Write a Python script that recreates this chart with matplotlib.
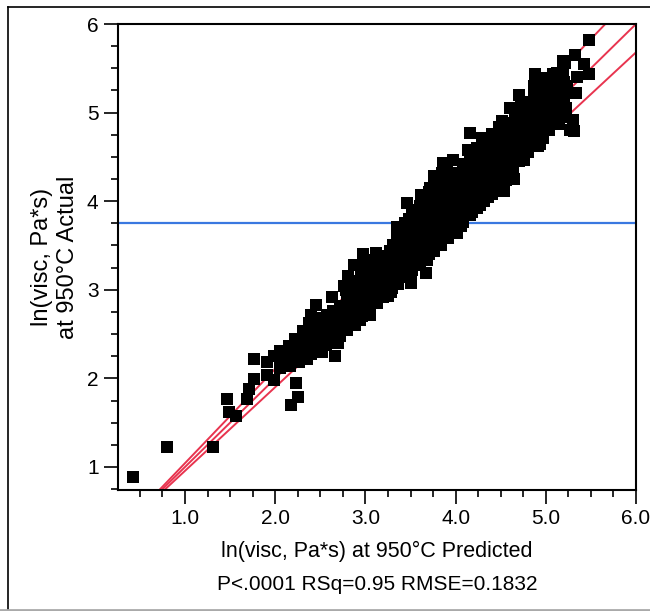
import matplotlib
matplotlib.use('Agg')
import matplotlib.pyplot as plt
from matplotlib.ticker import MultipleLocator, FormatStrFormatter
from matplotlib.lines import Line2D

# predicted vs actual ln(visc) at 950C
pred = [
    # low end, sparse
    0.42, 0.80, 1.31, 1.47, 1.49, 1.56, 1.69, 1.71, 1.76, 1.76, 1.91, 1.91, 1.99, 1.99, 2.05, 2.05, 2.16, 2.18, 2.23, 2.25, 2.66,
    # 2.1 - 2.9
    2.10, 2.12, 2.15, 2.20, 2.22, 2.26, 2.28, 2.31, 2.33, 2.35, 2.37, 2.40, 2.40, 2.42, 2.45, 2.46, 2.48, 2.50, 2.52, 2.54,
    2.57, 2.57, 2.60, 2.62, 2.63, 2.65, 2.68, 2.70, 2.72, 2.74, 2.76, 2.77, 2.80, 2.81, 2.83, 2.85, 2.87, 2.88, 2.90, 2.92,
    # 2.9 - 3.7
    2.94, 2.96, 2.97, 2.98, 3.00, 3.02, 3.05, 3.06, 3.08, 3.10, 3.12, 3.13, 3.15, 3.17, 3.18, 3.20, 3.22, 3.24, 3.25, 3.27,
    3.28, 3.30, 3.31, 3.32, 3.33, 3.35, 3.36, 3.38, 3.40, 3.41, 3.43, 3.45, 3.46, 3.47, 3.48, 3.50, 3.51, 3.52, 3.53, 3.55,
    3.57, 3.58, 3.60, 3.61, 3.62, 3.63, 3.64, 3.66, 3.67, 3.68, 3.70,
    # upper edge 3.4 - 3.8
    3.40, 3.44, 3.48, 3.52, 3.55, 3.60, 3.62, 3.66, 3.70, 3.72, 3.76, 3.80,
    # 3.7 - 4.6
    3.72, 3.73, 3.75, 3.76, 3.77, 3.78, 3.80, 3.81, 3.83, 3.84, 3.86, 3.87, 3.88, 3.89, 3.90, 3.92, 3.93, 3.95, 3.96, 3.97,
    3.98, 4.00, 4.01, 4.02, 4.04, 4.05, 4.06, 4.08, 4.10, 4.11, 4.12, 4.14, 4.15, 4.16, 4.17, 4.18, 4.20, 4.22, 4.24, 4.25,
    4.27, 4.28, 4.29, 4.30, 4.31, 4.33, 4.35, 4.36, 4.38, 4.40, 4.41, 4.43, 4.45, 4.46, 4.48, 4.50, 4.51, 4.53, 4.54, 4.55,
    4.56,
    # 4.6 - 5.5
    4.58, 4.60, 4.61, 4.62, 4.64, 4.65, 4.66, 4.68, 4.70, 4.70, 4.72, 4.74, 4.76, 4.77, 4.78, 4.80, 4.82, 4.84, 4.85, 4.87,
    4.88, 4.88, 4.90, 4.91, 4.93, 4.94, 4.95, 4.97, 4.98, 4.99, 5.01, 5.03, 5.04, 5.06, 5.08, 5.09, 5.11, 5.12, 5.13, 5.15,
    5.17, 5.18, 5.19, 5.20, 5.21, 5.22, 5.24, 5.27, 5.30, 5.31, 5.32, 5.34, 5.35, 5.42, 5.48, 5.48,
]
actual = [
    0.89, 1.23, 1.23, 1.77, 1.62, 1.57, 1.77, 1.88, 1.99, 2.22, 2.18, 2.04, 1.98, 2.25, 2.31, 2.12, 2.14, 1.70, 1.95, 1.79, 2.25,
    2.20, 2.30, 2.36, 2.25, 2.44, 2.18, 2.32, 2.53, 2.40, 2.22, 2.63, 2.72, 2.47, 2.32, 2.83, 2.40, 2.58, 2.68, 2.30, 2.50,
    2.40, 2.72, 2.62, 2.45, 2.92, 2.55, 2.70, 2.40, 2.49, 2.62, 3.04, 2.78, 2.55, 3.15, 2.68, 2.90, 3.28, 2.60, 2.78, 3.05,
    2.66, 2.92, 3.40, 3.18, 2.80, 3.05, 2.72, 3.28, 2.95, 3.15, 3.41, 2.85, 3.05, 3.30, 2.95, 3.20, 3.08, 3.38, 2.93, 3.15,
    3.28, 3.02, 3.51, 3.20, 3.40, 3.71, 3.10, 3.30, 3.55, 3.20, 3.42, 3.28, 3.98, 3.62, 3.35, 3.12, 3.08, 3.48, 3.75, 3.38,
    3.58, 3.28, 3.31, 3.45, 3.85, 3.45, 3.68, 3.55, 3.19, 3.92, 3.40,
    3.70, 3.75, 3.80, 3.85, 3.90, 3.95, 4.07, 4.02, 4.10, 4.15, 4.28, 4.20,
    3.62, 3.78, 3.50, 4.26, 4.00, 3.68, 3.85, 3.55, 4.10, 3.72, 4.43, 3.92, 3.60, 4.20, 3.80, 4.02, 3.68, 4.30, 3.88, 4.46,
    3.75, 4.12, 3.64, 3.95, 4.25, 3.82, 3.72, 4.05, 4.38, 3.90, 4.18, 4.58, 3.98, 4.77, 4.30, 3.88, 4.10, 4.45, 4.00, 4.22,
    3.96, 4.55, 4.71, 4.35, 4.10, 4.25, 4.48, 4.05, 4.62, 4.32, 4.18, 4.42, 4.75, 4.28, 4.55, 4.15, 4.90, 4.40, 4.11, 4.65,
    4.28,
    4.48, 5.05, 4.80, 4.35, 4.58, 4.25, 4.92, 4.70, 5.20, 4.45, 4.85, 4.60, 4.47, 5.00, 4.75, 4.55, 4.90, 5.12, 4.68, 5.30,
    5.44, 4.82, 5.00, 4.62, 5.36, 4.64, 4.85, 4.71, 5.05, 5.39, 4.92, 5.30, 4.80, 5.10, 5.43, 4.95, 5.25, 5.45, 5.02, 4.87,
    5.38, 4.95, 5.58, 5.15, 5.56, 5.05, 5.30, 4.80, 4.92, 4.79, 5.65, 5.22, 5.40, 5.55, 5.43, 5.82,
]

# the dense middle of the cloud, one line per column
core_pred = [
    2.32, 2.33, 2.31,
    2.40, 2.41, 2.39, 2.40,
    2.48, 2.47, 2.49, 2.48,
    2.56, 2.57, 2.55, 2.56,
    2.64, 2.63, 2.65, 2.64,
    2.72, 2.73, 2.71, 2.72,
    2.80, 2.79, 2.81, 2.80, 2.79,
    2.88, 2.89, 2.87, 2.88, 2.89,
    2.96, 2.95, 2.97, 2.96, 2.95, 2.97,
    3.04, 3.05, 3.03, 3.04, 3.05, 3.03,
    3.12, 3.11, 3.13, 3.12, 3.11,
    3.20, 3.21, 3.19, 3.20, 3.21,
    3.28, 3.27, 3.29, 3.28, 3.27,
    3.36, 3.37, 3.35, 3.36, 3.37, 3.35,
    3.44, 3.43, 3.45, 3.44, 3.43, 3.45,
    3.52, 3.53, 3.51, 3.52, 3.53,
    3.60, 3.59, 3.61, 3.60, 3.59,
    3.68, 3.69, 3.67, 3.68, 3.69, 3.67,
    3.76, 3.75, 3.77, 3.76, 3.75, 3.77, 3.76,
    3.84, 3.85, 3.83, 3.84, 3.85, 3.83, 3.84, 3.85,
    3.92, 3.91, 3.93, 3.92, 3.91, 3.93, 3.92, 3.91,
    4.00, 4.01, 3.99, 4.00, 4.01, 3.99, 4.00,
    4.08, 4.07, 4.09, 4.08, 4.07, 4.09, 4.08,
    4.16, 4.17, 4.15, 4.16, 4.17, 4.15, 4.16,
    4.24, 4.23, 4.25, 4.24, 4.23, 4.25, 4.24,
    4.32, 4.33, 4.31, 4.32, 4.33, 4.31, 4.32,
    4.40, 4.39, 4.41, 4.40, 4.39, 4.41, 4.40,
    4.48, 4.49, 4.47, 4.48, 4.49, 4.47, 4.48,
    4.56, 4.55, 4.57, 4.56, 4.55, 4.57, 4.56,
    4.64, 4.65, 4.63, 4.64, 4.65, 4.63,
    4.72, 4.71, 4.73, 4.72, 4.71, 4.73, 4.72,
    4.80, 4.81, 4.79, 4.80, 4.81,
    4.88, 4.87, 4.89, 4.88, 4.87,
    4.96, 4.97, 4.95, 4.96, 4.97,
    5.04, 5.03, 5.05, 5.04, 5.03,
    5.12, 5.13, 5.11, 5.12, 5.13,
    5.20, 5.19, 5.21, 5.20, 5.19,
]
core_actual = [
    2.24, 2.34, 2.44,
    2.28, 2.38, 2.50, 2.60,
    2.34, 2.44, 2.54, 2.66,
    2.38, 2.48, 2.58, 2.68,
    2.42, 2.52, 2.64, 2.76,
    2.48, 2.58, 2.70, 2.82,
    2.56, 2.66, 2.78, 2.90, 3.00,
    2.64, 2.74, 2.86, 2.98, 3.10,
    2.70, 2.82, 2.94, 3.06, 3.18, 3.28,
    2.78, 2.90, 3.00, 3.12, 3.22, 3.34,
    2.86, 2.96, 3.08, 3.20, 3.30,
    2.92, 3.02, 3.14, 3.26, 3.38,
    2.98, 3.10, 3.22, 3.32, 3.44,
    3.06, 3.16, 3.28, 3.40, 3.50, 3.60,
    3.14, 3.24, 3.36, 3.48, 3.58, 3.66,
    3.22, 3.32, 3.42, 3.54, 3.64,
    3.36, 3.50, 3.60, 3.72, 3.82,
    3.34, 3.46, 3.58, 3.70, 3.80, 3.90,
    3.44, 3.56, 3.66, 3.76, 3.88, 3.98, 4.10,
    3.50, 3.62, 3.74, 3.84, 3.96, 4.06, 4.18, 4.32,
    3.58, 3.70, 3.80, 3.90, 4.00, 4.12, 4.24, 4.36,
    3.70, 3.80, 3.90, 4.00, 4.10, 4.20, 4.32,
    3.76, 3.86, 3.98, 4.08, 4.20, 4.30, 4.42,
    3.84, 3.94, 4.06, 4.16, 4.26, 4.38, 4.50,
    3.92, 4.04, 4.14, 4.26, 4.36, 4.48, 4.60,
    4.00, 4.12, 4.22, 4.34, 4.44, 4.56, 4.66,
    4.08, 4.20, 4.30, 4.42, 4.52, 4.64, 4.76,
    4.16, 4.28, 4.38, 4.50, 4.60, 4.72, 4.84,
    4.24, 4.36, 4.46, 4.58, 4.68, 4.78, 4.88,
    4.36, 4.46, 4.56, 4.66, 4.76, 4.86,
    4.46, 4.56, 4.66, 4.76, 4.88, 4.98, 5.08,
    4.60, 4.70, 4.80, 4.92, 5.02,
    4.70, 4.80, 4.90, 5.12, 5.24,
    4.78, 4.88, 4.98, 5.14, 5.26,
    4.86, 4.96, 5.06, 5.20, 5.36,
    4.92, 5.04, 5.14, 5.28, 5.38,
    5.00, 5.10, 5.22, 5.34, 5.48,
]

# fit line, its confidence lines and the mean of the response
fit_x = [0.74, 6.0]
fit_y = [0.74, 6.0]
upper_x = [0.715, 5.66]
upper_y = [0.74, 6.0]
lower_x = [0.771, 6.0]
lower_y = [0.74, 5.68]
mean_actual = 3.75

plt.rcParams['font.family'] = ['Liberation Sans', 'DejaVu Sans']

fig = plt.figure(figsize=(6.5, 6.11), dpi=100)
ax = fig.add_axes([118/650, 1 - 490/611, (636-118)/650, (490-24)/611])

ax.axhline(mean_actual, color='#3a78e0', lw=1.6, zorder=1)
for xs, ys in [(fit_x, fit_y), (upper_x, upper_y), (lower_x, lower_y)]:
    ax.plot(xs, ys, color='#e8344f', lw=1.4, zorder=2)
ax.scatter(pred + core_pred, actual + core_actual, marker='s', s=66, c='black', linewidths=0, zorder=3)

ax.set_xlim(0.257, 6.0)
ax.set_ylim(0.74, 6.0)
ax.set_xticks([1, 2, 3, 4, 5, 6])
ax.set_yticks([1, 2, 3, 4, 5, 6])
ax.xaxis.set_major_formatter(FormatStrFormatter('%.1f'))
ax.xaxis.set_minor_locator(MultipleLocator(0.25))
ax.yaxis.set_minor_locator(MultipleLocator(0.25))
ax.tick_params(which='major', direction='out', length=10, width=1.2, labelsize=15, pad=4)
ax.tick_params(which='minor', direction='out', length=5, width=1.2)
for sp in ax.spines.values():
    sp.set_linewidth(1.5)

fig.text(55/650, 1 - 257/611, 'ln(visc, Pa*s)\nat 950°C Actual', fontsize=17, rotation=90,
         ha='center', va='center', multialignment='center', linespacing=1.2)
fig.text(377/650, 1 - 551/611, 'ln(visc, Pa*s) at 950°C Predicted', fontsize=15.5, ha='center', va='center')
fig.text(377/650, 1 - 585/611, 'P<.0001 RSq=0.95 RMSE=0.1832', fontsize=15, ha='center', va='center')

# report frame
fig.add_artist(Line2D([8/650, 8/650], [1 - 7/611, 0], color='black', lw=1.2, transform=fig.transFigure))
fig.add_artist(Line2D([8/650, 1], [1 - 7/611, 1 - 7/611], color='black', lw=1.2, transform=fig.transFigure))
fig.add_artist(Line2D([0, 1], [1/611, 1/611], color='#aaaaaa', lw=2, transform=fig.transFigure))

fig.savefig('out.png', dpi=100)
